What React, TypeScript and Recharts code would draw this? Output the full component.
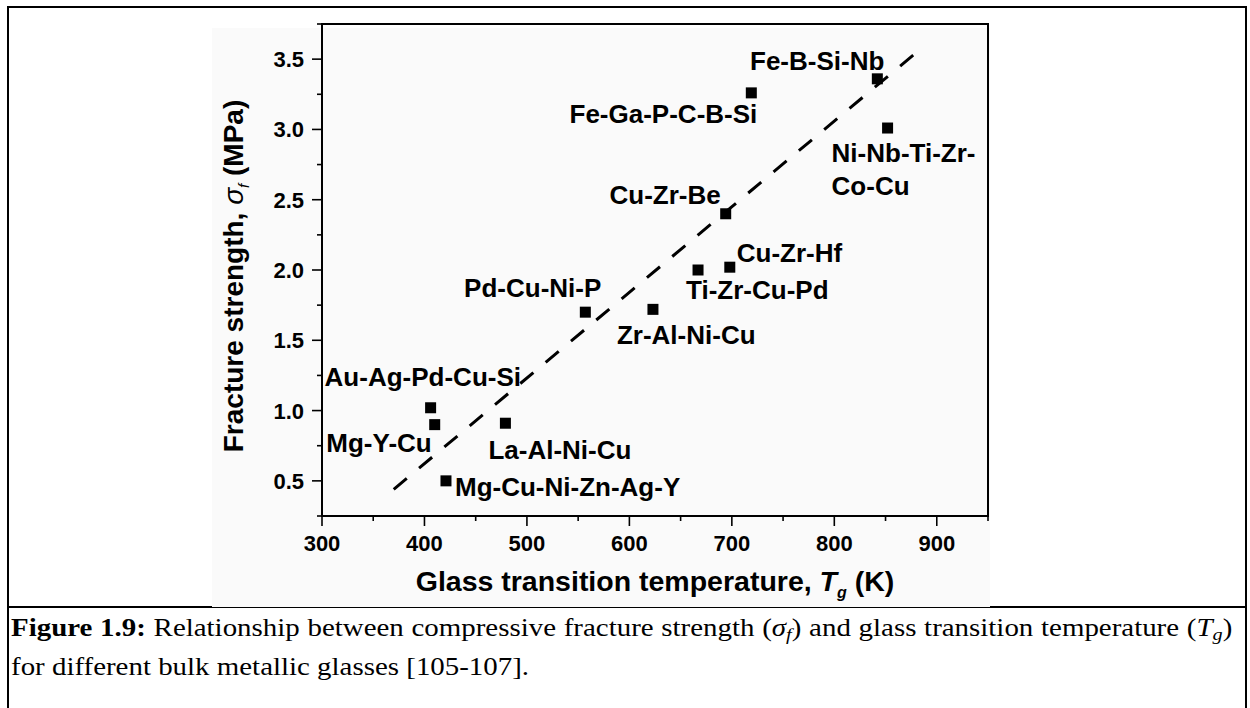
import { Label, ReferenceArea, ReferenceLine, Scatter, ScatterChart, XAxis, YAxis } from "recharts"

const alloys = [
  "Au-Ag-Pd-Cu-Si",
  "Mg-Y-Cu",
  "Mg-Cu-Ni-Zn-Ag-Y",
  "La-Al-Ni-Cu",
  "Pd-Cu-Ni-P",
  "Zr-Al-Ni-Cu",
  "Ti-Zr-Cu-Pd",
  "Cu-Zr-Hf",
  "Cu-Zr-Be",
  "Fe-Ga-P-C-B-Si",
  "Fe-B-Si-Nb",
  "Ni-Nb-Ti-Zr-Co-Cu",
]
// glass transition temperature, K
const tg = [406, 410, 421, 479, 557, 623, 667, 698, 694, 719, 842, 852]
// compressive fracture strength
const sigmaF = [1.02, 0.9, 0.5, 0.91, 1.7, 1.72, 2.0, 2.02, 2.4, 3.26, 3.36, 3.01]

// ends of the dashed trend line
const fitTg = [370, 883]
const fitSigma = [0.44, 3.565]

const xTicks = [300, 350, 400, 450, 500, 550, 600, 650, 700, 750, 800, 850, 900, 950]
const yTicks = [0.25, 0.5, 0.75, 1.0, 1.25, 1.5, 1.75, 2.0, 2.25, 2.5, 2.75, 3.0, 3.25, 3.5, 3.75]

const data = alloys.map((name, i) => ({ name, tg: tg[i], sf: sigmaF[i] }))

// where each alloy name sits relative to its marker (baseline offset in px)
const labelPos: Record<string, { dx: number; dy: number; anchor: "start" | "end"; wrap?: number }> = {
  "Au-Ag-Pd-Cu-Si": { dx: -106, dy: -22, anchor: "start" },
  "Mg-Y-Cu": { dx: -3, dy: 27, anchor: "end" },
  "Mg-Cu-Ni-Zn-Ag-Y": { dx: 9, dy: 15, anchor: "start" },
  "La-Al-Ni-Cu": { dx: -17, dy: 36, anchor: "start" },
  "Pd-Cu-Ni-P": { dx: 16, dy: -15, anchor: "end" },
  "Zr-Al-Ni-Cu": { dx: -36, dy: 35, anchor: "start" },
  "Ti-Zr-Cu-Pd": { dx: -12, dy: 29, anchor: "start" },
  "Cu-Zr-Hf": { dx: 7, dy: -5, anchor: "start" },
  "Cu-Zr-Be": { dx: -5, dy: -10, anchor: "end" },
  "Fe-Ga-P-C-B-Si": { dx: 6, dy: 30, anchor: "end" },
  "Fe-B-Si-Nb": { dx: 7, dy: -9, anchor: "end" },
  "Ni-Nb-Ti-Zr-Co-Cu": { dx: -56, dy: 34, anchor: "start", wrap: 12 },
}

const SANS = "'Liberation Sans', Arial, sans-serif"
const SERIF = "'Liberation Serif', 'Times New Roman', serif"

function SquareMarker(props: any) {
  const { cx, cy, payload } = props
  const pos = labelPos[payload.name]
  const lines = pos.wrap ? [payload.name.slice(0, pos.wrap), payload.name.slice(pos.wrap)] : [payload.name]
  return (
    <g>
      <rect x={cx - 5.5} y={cy - 5.5} width={11} height={11} fill="#000" />
      {lines.map((line: string, i: number) => (
        <text
          key={i}
          x={cx + pos.dx}
          y={cy + pos.dy + i * 33}
          textAnchor={pos.anchor}
          fontFamily={SANS}
          fontWeight="bold"
          fontSize={26}
          fill="#000"
        >
          {line}
        </text>
      ))}
    </g>
  )
}

function XTick(props: any) {
  const { x, y, payload } = props
  const major = payload.value % 100 === 0
  return (
    <g>
      <line x1={x} y1={y} x2={x} y2={y + (major ? 10 : 5)} stroke="#000" strokeWidth={1.6} />
      {major && (
        <text x={x} y={y + 35} textAnchor="middle" fontFamily={SANS} fontWeight="bold" fontSize={22} fill="#000">
          {payload.value}
        </text>
      )}
    </g>
  )
}

function YTick(props: any) {
  const { x, y, payload } = props
  const major = Math.abs(payload.value * 2 - Math.round(payload.value * 2)) < 1e-6
  return (
    <g>
      <line x1={x} y1={y} x2={x - (major ? 10 : 5)} y2={y} stroke="#000" strokeWidth={1.6} />
      {major && (
        <text x={x - 18} y={y + 8} textAnchor="end" fontFamily={SANS} fontWeight="bold" fontSize={22} fill="#000">
          {payload.value.toFixed(1)}
        </text>
      )}
    </g>
  )
}

function XTitle(props: any) {
  const { viewBox } = props
  const cx = viewBox.x + viewBox.width / 2
  return (
    <text x={cx} y={viewBox.y + 75} textAnchor="middle" fontFamily={SANS} fontWeight="bold" fontSize={28.5} fill="#000">
      Glass transition temperature,{" "}
      <tspan fontStyle="italic">T</tspan>
      <tspan fontStyle="italic" fontSize={16} dy={7}>g</tspan>
      <tspan dy={-7}> (K)</tspan>
    </text>
  )
}

function YTitle(props: any) {
  const { viewBox } = props
  const bx = viewBox.x + 21
  const cy = viewBox.y + viewBox.height / 2 + 6
  return (
    <text
      x={bx}
      y={cy}
      transform={`rotate(-90 ${bx} ${cy})`}
      textAnchor="middle"
      fontFamily={SANS}
      fontWeight="bold"
      fontSize={28}
      fill="#000"
    >
      Fracture strength,{" "}
      <tspan fontStyle="italic" fontWeight="normal">σ</tspan>
      <tspan fontStyle="italic" fontWeight="normal" fontSize={15} dy={6}>f</tspan>
      <tspan dy={-6}> (MPa)</tspan>
    </text>
  )
}

const subStyle = { fontSize: "0.7em", verticalAlign: "-0.25em", lineHeight: 0 }
const captionLine = {
  position: "absolute" as const,
  left: 11,
  fontFamily: SERIF,
  fontSize: 24.5,
  lineHeight: "24.5px",
  color: "#000",
  transform: "scaleX(1.18)",
  transformOrigin: "0 0",
}

export default function App() {
  return (
    <div style={{ position: "absolute", left: 0, top: 0, width: 1250, height: 708, background: "#fff", overflow: "hidden" }}>
      {/* page frame */}
      <div style={{ position: "absolute", left: 7, top: 6, width: 1240, height: 2, background: "#000" }} />
      <div style={{ position: "absolute", left: 7, top: 6, width: 2, height: 702, background: "#000" }} />
      <div style={{ position: "absolute", left: 1245, top: 6, width: 2, height: 702, background: "#000" }} />
      <div style={{ position: "absolute", left: 7, top: 606, width: 1240, height: 2, background: "#000" }} />
      {/* pasted figure background */}
      <div style={{ position: "absolute", left: 212, top: 28, width: 778, height: 579, background: "#fafafa" }} />

      <div style={{ position: "absolute", left: 0, top: 0 }}>
        <ScatterChart width={1250} height={708} margin={{ top: 24, right: 262, bottom: 112, left: 222 }}>
          <XAxis
            type="number"
            dataKey="tg"
            domain={[300, 950]}
            ticks={xTicks}
            interval={0}
            tickSize={0}
            tickMargin={0}
            tickLine={false}
            axisLine={false}
            tick={<XTick />}
            height={80}
          >
            <Label content={XTitle} />
          </XAxis>
          <YAxis
            type="number"
            dataKey="sf"
            domain={[0.25, 3.75]}
            ticks={yTicks}
            interval={0}
            tickSize={0}
            tickMargin={0}
            tickLine={false}
            axisLine={false}
            tick={<YTick />}
            width={100}
          >
            <Label content={YTitle} />
          </YAxis>
          <ReferenceArea x1={300} x2={950} y1={0.25} y2={3.75} fill="none" stroke="#000" strokeWidth={2} />
          <ReferenceLine
            segment={[
              { x: fitTg[0], y: fitSigma[0] },
              { x: fitTg[1], y: fitSigma[1] },
            ]}
            stroke="#000"
            strokeWidth={3}
            strokeDasharray="17 16"
          />
          <Scatter data={data} shape={<SquareMarker />} isAnimationActive={false} />
        </ScatterChart>
      </div>

      <div style={{ ...captionLine, top: 616, width: 1035, textAlign: "justify", textAlignLast: "justify" }}>
        <b>Figure 1.9:</b> Relationship between compressive fracture strength (<i>σ</i>
        <sub style={subStyle}>
          <i>f</i>
        </sub>
        ) and glass transition temperature (<i>T</i>
        <sub style={subStyle}>
          <i>g</i>
        </sub>
        )
      </div>
      <div style={{ ...captionLine, top: 655, whiteSpace: "nowrap" }}>for different bulk metallic glasses [105-107].</div>
    </div>
  )
}
